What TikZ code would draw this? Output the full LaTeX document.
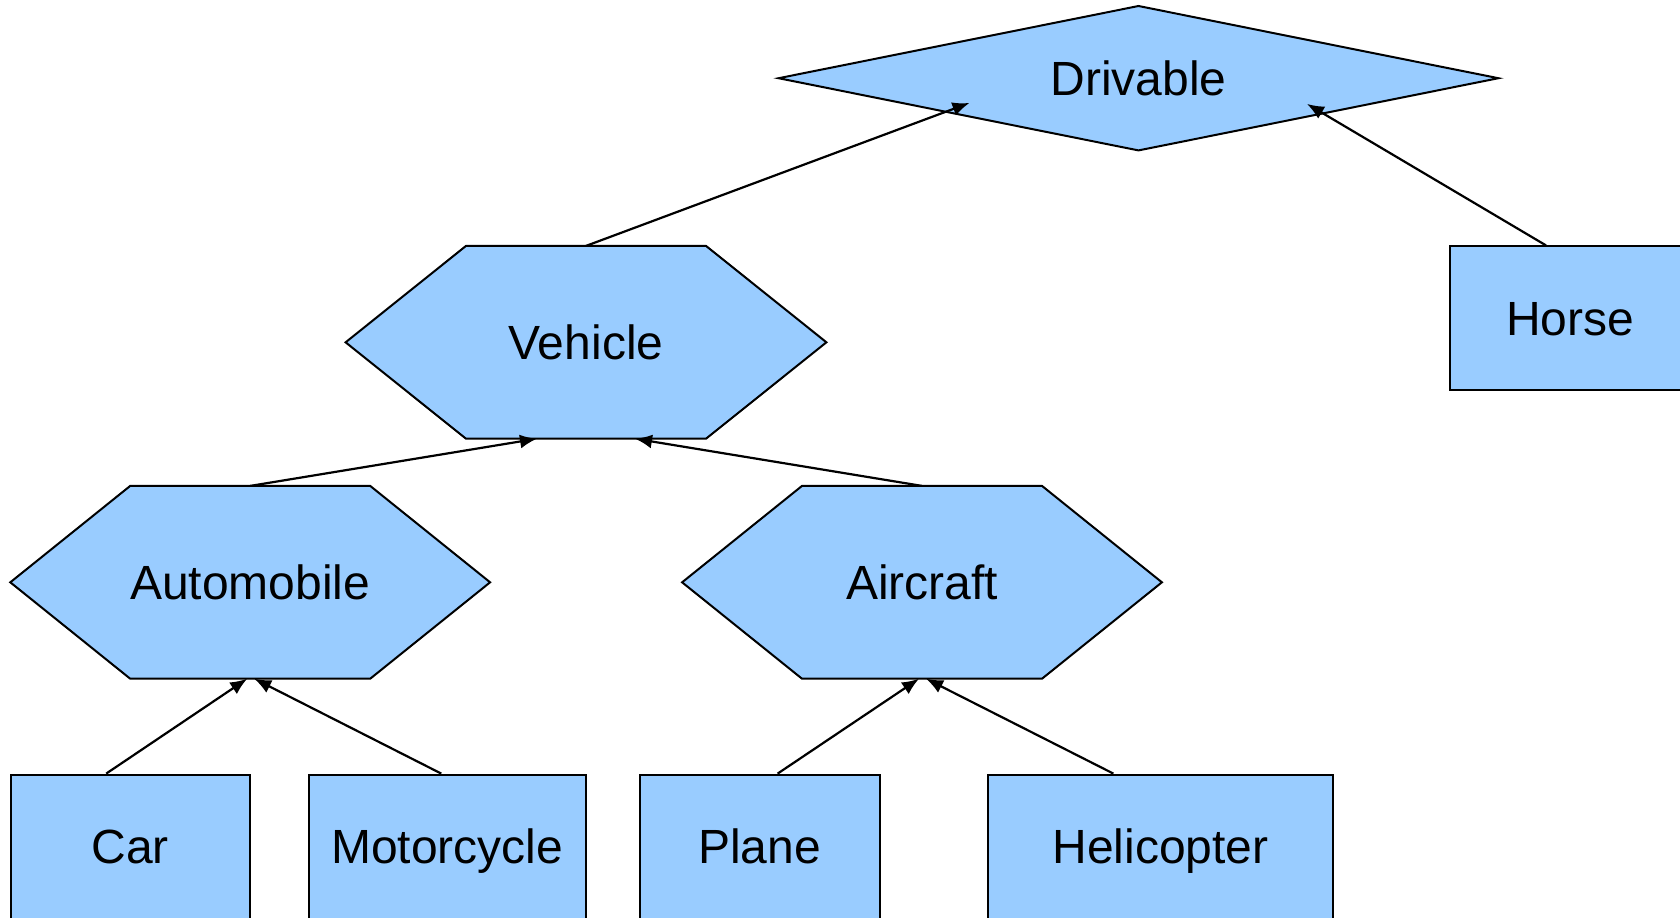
\documentclass[tikz,border=0pt]{standalone}
\usepackage{fontspec}
\setmainfont{Liberation Sans}
\usetikzlibrary{arrows.meta,calc,backgrounds}
\definecolor{nodefill}{HTML}{99CCFF}
\tikzset{
  lbl/.style={inner sep=0pt, font=\fontsize{24}{28}\selectfont, text height=17.2pt, text depth=0pt},
  box/.style={lbl, draw=black, fill=nodefill, line width=1pt, minimum height=71.8pt},
  lowbox/.style={box, minimum height=79.8pt, text depth=8pt},
  shapeline/.style={draw=black, fill=nodefill, line width=1pt, line join=miter},
  conn/.style={draw=black, line width=1.1pt, -{Latex[length=8.5pt,width=7pt]}},
}
\begin{document}
\begin{tikzpicture}[x=0.5pt,y=-0.5pt]
\useasboundingbox (0,0) rectangle (1680,917);
\clip (0,0) rectangle (1680,917);
% Drivable (diamond)
\node[lbl, minimum width=359.5pt, minimum height=71.8pt] (drv) at (1138.5,78.2) {Drivable};
% Hexagons
\node[lbl, minimum width=240pt, minimum height=96pt] (veh) at (586,342.3) {Vehicle};
\node[lbl, minimum width=239.5pt, minimum height=96pt] (auto) at (250.2,582.3) {Automobile};
\node[lbl, minimum width=239.5pt, minimum height=96pt] (air) at (922,582.3) {Aircraft};
\begin{scope}[on background layer]
  \path[shapeline] (drv.west) -- (drv.north) -- (drv.east) -- (drv.south) -- cycle;
  \foreach \h in {veh,auto,air}{
    \path[shapeline] (\h.west) -- ($(\h.north)+(-120,0)$) -- ($(\h.north)+(120,0)$)
      -- (\h.east) -- ($(\h.south)+(120,0)$) -- ($(\h.south)+(-120,0)$) -- cycle;
  }
\end{scope}
% Boxes
\node[box, minimum width=120pt] (horse) at (1570,318.2) {Horse};
\node[lowbox, minimum width=119.5pt] (car) at (130.2,854.4) {Car};
\node[lowbox, minimum width=138.7pt] (moto) at (447.3,854.4) {Motorcycle};
\node[lowbox, minimum width=120pt] (plane) at (759.6,854.4) {Plane};
\node[lowbox, minimum width=172.5pt] (heli) at (1160.4,854.4) {Helicopter};
% Connectors
\draw[conn] (veh.north) -- ($(drv.center)+(-169,24.7)$);
\draw[conn] ($(horse.north)+(-24,0)$) -- ($(drv.center)+(168.5,25.7)$);
\draw[conn] (auto.north) -- ($(veh.south)+(-49,0)$);
\draw[conn] (air.north) -- ($(veh.south)+(49,0)$);
\draw[conn] ($(car.north)+(-24,0)$) -- ($(auto.south)+(-3,0)$);
\draw[conn] ($(moto.north)+(-6,0)$) -- ($(auto.south)+(4,0)$);
\draw[conn] ($(plane.north)+(18,0)$) -- ($(air.south)+(-3,0)$);
\draw[conn] ($(heli.north)+(-47,0)$) -- ($(air.south)+(4,0)$);
\end{tikzpicture}
\end{document}
